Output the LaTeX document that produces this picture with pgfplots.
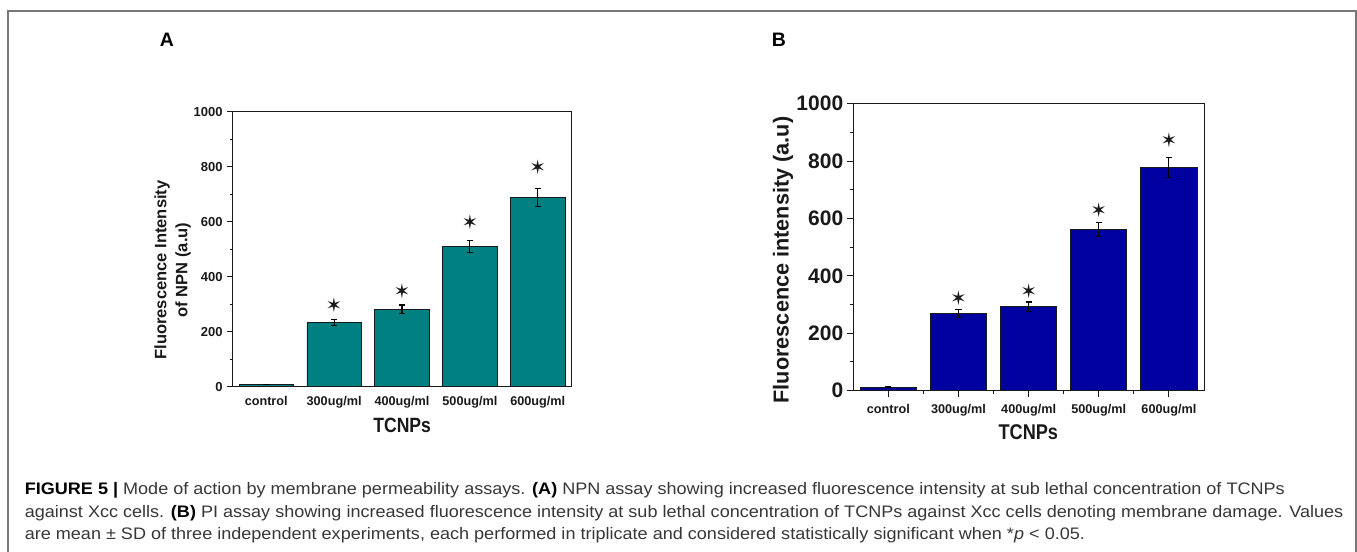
\documentclass[border=0pt]{standalone}
\usepackage{fontspec}
\setmainfont{Liberation Sans}
\newfontfamily\djv{DejaVu Sans}
\newfontfamily\condfont[FakeStretch=0.85]{Liberation Sans}
\newfontfamily\capfont{Liberation Sans}
\usepackage{graphicx}
\usepackage{pgfplots}
\pgfplotsset{compat=1.18}
\definecolor{tealbar}{RGB}{0,128,128}
\definecolor{bluebar}{RGB}{0,0,160}
\definecolor{framecol}{RGB}{120,120,120}
\definecolor{captxt}{RGB}{55,55,55}
\definecolor{inkc}{RGB}{25,25,25}
\newcommand{\fs}[2]{\fontsize{#1}{#2}\selectfont}
\pgfplotsset{
  panel/.style={
    scale only axis,
    xmin=-0.5, xmax=4.5, ymin=0, ymax=1000,
    xtick={0,1,2,3,4},
    xticklabels={control,300ug/ml,400ug/ml,500ug/ml,600ug/ml},
    ytick={0,200,400,600,800,1000},
    minor ytick={100,300,500,700,900},
    tick pos=left, tick align=outside,
    axis line style={inkc, line width=0.75pt},
    every tick/.append style={inkc, line width=0.75pt},
    /pgf/number format/assume math mode=true,
    /pgf/number format/1000 sep={},
    clip=false,
  },
  errs/.style={
    error bars/y dir=both, error bars/y explicit,
    error bars/error bar style={black, line width=0.8pt},
    error bars/error mark options={rotate=90, black, line width=0.8pt, mark size=2.3pt},
  },
}
\newsavebox\capone
\newlength\capw
\begin{document}%
\sbox\capone{\capfont\fs{12.5pt}{14pt}{\color{black}\bfseries FIGURE 5 |} {\color{captxt}Mode of action by membrane permeability assays.} {\color{black}\bfseries (A)} {\color{captxt}NPN assay showing increased fluorescence intensity at sub lethal concentration of TCNPs}}%
\setlength\capw{\wd\capone}%
\pgfmathsetmacro\capsx{945pt/\capw}%
\begin{tikzpicture}
\path[use as bounding box] (0,0) rectangle (1017.75pt,-414pt);
% frame
\draw[framecol, line width=1.1pt] (6pt,-420pt) -- (6pt,-8.25pt) -- (1016.9pt,-8.25pt) -- (1016.9pt,-420pt);
% panel letters
\node[font=\bfseries\fs{14.6pt}{16pt}, inner sep=0] at (125.25pt,-30pt) {A};
\node[font=\bfseries\fs{14.6pt}{16pt}, inner sep=0] at (584.25pt,-30pt) {B};

% ---------- Panel A ----------
\begin{axis}[panel,
  at={(174.2pt,-290pt)}, anchor=south west,
  width=254.6pt, height=206.25pt,
  major tick length=3.75pt, minor tick length=2pt,
  major x tick style={draw=none},
  yticklabel style={font=\bfseries\fs{9.75pt}{11pt}, text=inkc},
  xticklabel style={font=\bfseries\fs{9.5pt}{11pt}, text=inkc},
]
\addplot[ybar, bar width=0.8, fill=tealbar, draw=inkc, line width=0.6pt, errs]
  coordinates {(0,8) +- (0,1) (1,232) +- (0,11) (2,282) +- (0,15) (3,510) +- (0,21) (4,689) +- (0,33)};
\addplot[only marks, mark=text, text mark={\color{inkc}\djv\fs{15pt}{16pt}✶}]
  coordinates {(1,296) (2,346) (3,598) (4,798)};
\end{axis}
\node[rotate=90, align=center, font=\bfseries\fs{12.4pt}{15.75pt}, text=inkc, inner sep=0] at (129.4pt,-202.5pt) {Fluorescence Intensity\\of NPN (a.u)};
\node[font=\condfont\bfseries\fs{15.5pt}{17pt}, text=inkc, inner sep=0] at (301.6pt,-319.2pt) {TCNPs};

% ---------- Panel B ----------
\begin{axis}[panel,
  at={(640pt,-293pt)}, anchor=south west,
  width=263pt, height=215.25pt,
  major tick length=5pt, minor tick length=2.5pt,
  minor xtick={0.5,1.5,2.5,3.5},
  yticklabel style={font=\bfseries\fs{15.75pt}{17pt}, text=inkc, inner sep=2.4pt},
  xticklabel style={font=\bfseries\fs{9.5pt}{11pt}, text=inkc, yshift=-1.5pt},
]
\addplot[ybar, bar width=0.8, fill=bluebar, draw=inkc, line width=0.6pt, errs]
  coordinates {(0,12) +- (0,1) (1,269) +- (0,14) (2,292) +- (0,17) (3,562) +- (0,25) (4,778) +- (0,35)};
\addplot[only marks, mark=text, text mark={\color{inkc}\djv\fs{15pt}{16pt}✶}]
  coordinates {(1,321) (2,348) (3,628) (4,872)};
\end{axis}
\node[rotate=90, font=\bfseries\fs{16.25pt}{18pt}, text=inkc, inner sep=0] at (587.25pt,-195pt) {Fluorescence intensity (a.u)};
\node[font=\condfont\bfseries\fs{16pt}{18pt}, text=inkc, inner sep=0] at (771.25pt,-324pt) {TCNPs};

% ---------- Caption ----------
\node[anchor=base west, inner sep=0] at (18.4pt,-370.7pt) {\scalebox{\capsx}[1]{\usebox\capone}};
\node[anchor=base west, inner sep=0] at (18.4pt,-387.75pt) {\scalebox{\capsx}[1]{\capfont\fs{12.5pt}{14pt}{\color{captxt}against Xcc cells.} {\color{black}\bfseries (B)} {\color{captxt}PI assay showing increased fluorescence intensity at sub lethal concentration of TCNPs against Xcc cells denoting membrane damage. Values}}};
\node[anchor=base west, inner sep=0] at (18.4pt,-404.5pt) {\scalebox{\capsx}[1]{\capfont\fs{12.5pt}{14pt}\color{captxt}are mean ± SD of three independent experiments, each performed in triplicate and considered statistically significant when *\textit{p} < 0.05.}};
\end{tikzpicture}%
\end{document}
